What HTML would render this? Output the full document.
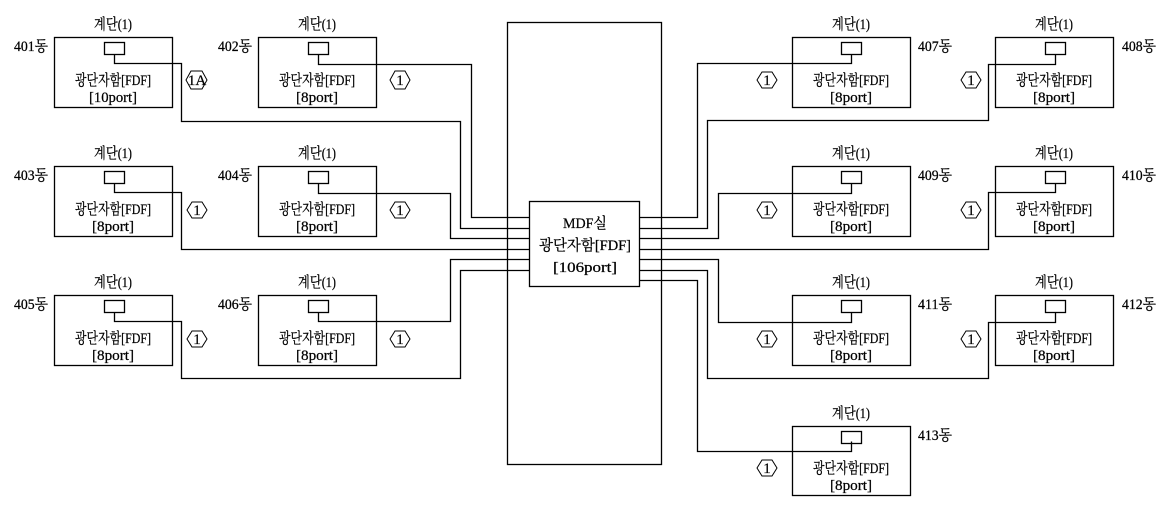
<!DOCTYPE html>
<html><head><meta charset="utf-8"><style>
body{margin:0;background:#fff}
svg{display:block}
text{font-family:"Liberation Serif","Noto Serif CJK SC","Noto Sans CJK KR",serif;font-size:15px;fill:#000;stroke:#000;stroke-width:0.25}
.c{text-anchor:middle}
</style></head><body>
<svg width="1165" height="508" viewBox="0 0 1165 508" xmlns="http://www.w3.org/2000/svg">
<g fill="none" stroke="#000" stroke-width="1.3">
<rect x="507.5" y="22.5" width="154" height="442"/>
<rect x="529.5" y="201.5" width="110" height="85" fill="#fff"/>
<rect x="54.5" y="37.5" width="118" height="70"/><rect x="104.5" y="42.5" width="20" height="12"/>
<rect x="258.5" y="37.5" width="118" height="70"/><rect x="308.5" y="42.5" width="20" height="12"/>
<rect x="54.5" y="166.5" width="118" height="70"/><rect x="104.5" y="171.5" width="20" height="12"/>
<rect x="258.5" y="166.5" width="118" height="70"/><rect x="308.5" y="171.5" width="20" height="12"/>
<rect x="54.5" y="295.5" width="118" height="70"/><rect x="104.5" y="300.5" width="20" height="12"/>
<rect x="258.5" y="295.5" width="118" height="70"/><rect x="308.5" y="300.5" width="20" height="12"/>
<rect x="792.5" y="37.5" width="118" height="70"/><rect x="841.5" y="42.5" width="20" height="12"/>
<rect x="995.5" y="37.5" width="118" height="70"/><rect x="1045.5" y="42.5" width="20" height="12"/>
<rect x="792.5" y="166.5" width="118" height="70"/><rect x="841.5" y="171.5" width="20" height="12"/>
<rect x="995.5" y="166.5" width="118" height="70"/><rect x="1045.5" y="171.5" width="20" height="12"/>
<rect x="792.5" y="295.5" width="118" height="70"/><rect x="841.5" y="300.5" width="20" height="12"/>
<rect x="995.5" y="295.5" width="118" height="70"/><rect x="1045.5" y="300.5" width="20" height="12"/>
<rect x="792.5" y="426.5" width="118" height="69"/><rect x="841.5" y="431.5" width="20" height="12"/>
<polyline points="114.5,54.5 114.5,63.5 181.5,63.5 181.5,121.5 460.5,121.5 460.5,228.5 529.5,228.5"/>
<polyline points="318.5,54.5 318.5,64.5 471.5,64.5 471.5,217.5 529.5,217.5"/>
<polyline points="114.5,183.5 114.5,192.5 181.5,192.5 181.5,249.5 529.5,249.5"/>
<polyline points="318.5,183.5 318.5,193.5 450.5,193.5 450.5,238.5 529.5,238.5"/>
<polyline points="114.5,312.5 114.5,321.5 181.5,321.5 181.5,378.5 460.5,378.5 460.5,270.5 529.5,270.5"/>
<polyline points="318.5,312.5 318.5,321.5 450.5,321.5 450.5,259.5 529.5,259.5"/>
<polyline points="851.5,54.5 851.5,63.5 697.5,63.5 697.5,217.5 639.5,217.5"/>
<polyline points="1055.5,54.5 1055.5,64.5 988.5,64.5 988.5,120.5 707.5,120.5 707.5,228.5 639.5,228.5"/>
<polyline points="851.5,183.5 851.5,193.5 718.5,193.5 718.5,238.5 639.5,238.5"/>
<polyline points="1055.5,183.5 1055.5,192.5 988.5,192.5 988.5,249.5 639.5,249.5"/>
<polyline points="851.5,312.5 851.5,322.5 718.5,322.5 718.5,259.5 639.5,259.5"/>
<polyline points="1055.5,312.5 1055.5,322.5 988.5,322.5 988.5,378.5 707.5,378.5 707.5,270.5 639.5,270.5"/>
<polyline points="851.5,441.5 851.5,451.5 697.5,451.5 697.5,280.5 639.5,280.5"/>
<g stroke-width="1">
<polygon points="186,80 191,71 202,71 207,80 202,89 191,89"/>
<polygon points="390,80 395,71 405,71 410,80 405,89 395,89"/>
<polygon points="187,210 192,202 202,202 207,210 202,218 192,218"/>
<polygon points="390,210 395,202 405,202 410,210 405,218 395,218"/>
<polygon points="187,339 192,331 202,331 207,339 202,347 192,347"/>
<polygon points="390,339 395,331 405,331 410,339 405,347 395,347"/>
<polygon points="757,80 762,72 772,72 777,80 772,88 762,88"/>
<polygon points="961,80 966,72 976,72 981,80 976,88 966,88"/>
<polygon points="757,210 762,202 772,202 777,210 772,218 762,218"/>
<polygon points="961,210 966,202 976,202 981,210 976,218 966,218"/>
<polygon points="757,339 762,331 772,331 777,339 772,347 762,347"/>
<polygon points="961,339 966,331 976,331 981,339 976,347 966,347"/>
<polygon points="757,468 762,460 772,460 777,468 772,476 762,476"/>
</g>
</g>
<g>
<text class="c" x="585" y="228" textLength="44" lengthAdjust="spacingAndGlyphs">MDF실</text>
<text class="c" x="585" y="250" textLength="92" lengthAdjust="spacingAndGlyphs">광단자함[FDF]</text>
<text class="c" x="585" y="272" textLength="64" lengthAdjust="spacingAndGlyphs">[106port]</text>
<g style="font-size:12px">
<text class="c" x="197" y="85">1A</text><text class="c" x="400" y="85">1</text>
<text class="c" x="197" y="215">1</text><text class="c" x="400" y="215">1</text>
<text class="c" x="197" y="344">1</text><text class="c" x="400" y="344">1</text>
<text class="c" x="767" y="85">1</text><text class="c" x="971" y="85">1</text>
<text class="c" x="767" y="215">1</text><text class="c" x="971" y="215">1</text>
<text class="c" x="767" y="344">1</text><text class="c" x="971" y="344">1</text>
<text class="c" x="767" y="473">1</text>
</g>
<text class="c" x="113" y="29" textLength="38" lengthAdjust="spacingAndGlyphs">계단(1)</text>
<text class="c" x="113" y="85" textLength="76" lengthAdjust="spacingAndGlyphs">광단자함[FDF]</text>
<text class="c" x="113" y="102" textLength="48" lengthAdjust="spacingAndGlyphs">[10port]</text>
<text x="14" y="51" textLength="34" lengthAdjust="spacingAndGlyphs">401동</text>
<text class="c" x="317" y="29" textLength="38" lengthAdjust="spacingAndGlyphs">계단(1)</text>
<text class="c" x="317" y="85" textLength="76" lengthAdjust="spacingAndGlyphs">광단자함[FDF]</text>
<text class="c" x="317" y="102" textLength="42" lengthAdjust="spacingAndGlyphs">[8port]</text>
<text x="218" y="51" textLength="34" lengthAdjust="spacingAndGlyphs">402동</text>
<text class="c" x="113" y="158" textLength="38" lengthAdjust="spacingAndGlyphs">계단(1)</text>
<text class="c" x="113" y="214" textLength="76" lengthAdjust="spacingAndGlyphs">광단자함[FDF]</text>
<text class="c" x="113" y="231" textLength="42" lengthAdjust="spacingAndGlyphs">[8port]</text>
<text x="14" y="180" textLength="34" lengthAdjust="spacingAndGlyphs">403동</text>
<text class="c" x="317" y="158" textLength="38" lengthAdjust="spacingAndGlyphs">계단(1)</text>
<text class="c" x="317" y="214" textLength="76" lengthAdjust="spacingAndGlyphs">광단자함[FDF]</text>
<text class="c" x="317" y="231" textLength="42" lengthAdjust="spacingAndGlyphs">[8port]</text>
<text x="218" y="180" textLength="34" lengthAdjust="spacingAndGlyphs">404동</text>
<text class="c" x="113" y="287" textLength="38" lengthAdjust="spacingAndGlyphs">계단(1)</text>
<text class="c" x="113" y="343" textLength="76" lengthAdjust="spacingAndGlyphs">광단자함[FDF]</text>
<text class="c" x="113" y="360" textLength="42" lengthAdjust="spacingAndGlyphs">[8port]</text>
<text x="14" y="309" textLength="34" lengthAdjust="spacingAndGlyphs">405동</text>
<text class="c" x="317" y="287" textLength="38" lengthAdjust="spacingAndGlyphs">계단(1)</text>
<text class="c" x="317" y="343" textLength="76" lengthAdjust="spacingAndGlyphs">광단자함[FDF]</text>
<text class="c" x="317" y="360" textLength="42" lengthAdjust="spacingAndGlyphs">[8port]</text>
<text x="218" y="309" textLength="34" lengthAdjust="spacingAndGlyphs">406동</text>
<text class="c" x="851" y="29" textLength="38" lengthAdjust="spacingAndGlyphs">계단(1)</text>
<text class="c" x="851" y="85" textLength="76" lengthAdjust="spacingAndGlyphs">광단자함[FDF]</text>
<text class="c" x="851" y="102" textLength="42" lengthAdjust="spacingAndGlyphs">[8port]</text>
<text x="918" y="51" textLength="34" lengthAdjust="spacingAndGlyphs">407동</text>
<text class="c" x="1054" y="29" textLength="38" lengthAdjust="spacingAndGlyphs">계단(1)</text>
<text class="c" x="1054" y="85" textLength="76" lengthAdjust="spacingAndGlyphs">광단자함[FDF]</text>
<text class="c" x="1054" y="102" textLength="42" lengthAdjust="spacingAndGlyphs">[8port]</text>
<text x="1122" y="51" textLength="34" lengthAdjust="spacingAndGlyphs">408동</text>
<text class="c" x="851" y="158" textLength="38" lengthAdjust="spacingAndGlyphs">계단(1)</text>
<text class="c" x="851" y="214" textLength="76" lengthAdjust="spacingAndGlyphs">광단자함[FDF]</text>
<text class="c" x="851" y="231" textLength="42" lengthAdjust="spacingAndGlyphs">[8port]</text>
<text x="918" y="180" textLength="34" lengthAdjust="spacingAndGlyphs">409동</text>
<text class="c" x="1054" y="158" textLength="38" lengthAdjust="spacingAndGlyphs">계단(1)</text>
<text class="c" x="1054" y="214" textLength="76" lengthAdjust="spacingAndGlyphs">광단자함[FDF]</text>
<text class="c" x="1054" y="231" textLength="42" lengthAdjust="spacingAndGlyphs">[8port]</text>
<text x="1122" y="180" textLength="34" lengthAdjust="spacingAndGlyphs">410동</text>
<text class="c" x="851" y="287" textLength="38" lengthAdjust="spacingAndGlyphs">계단(1)</text>
<text class="c" x="851" y="343" textLength="76" lengthAdjust="spacingAndGlyphs">광단자함[FDF]</text>
<text class="c" x="851" y="360" textLength="42" lengthAdjust="spacingAndGlyphs">[8port]</text>
<text x="918" y="309" textLength="34" lengthAdjust="spacingAndGlyphs">411동</text>
<text class="c" x="1054" y="287" textLength="38" lengthAdjust="spacingAndGlyphs">계단(1)</text>
<text class="c" x="1054" y="343" textLength="76" lengthAdjust="spacingAndGlyphs">광단자함[FDF]</text>
<text class="c" x="1054" y="360" textLength="42" lengthAdjust="spacingAndGlyphs">[8port]</text>
<text x="1122" y="309" textLength="34" lengthAdjust="spacingAndGlyphs">412동</text>
<text class="c" x="851" y="418" textLength="38" lengthAdjust="spacingAndGlyphs">계단(1)</text>
<text class="c" x="851" y="473" textLength="76" lengthAdjust="spacingAndGlyphs">광단자함[FDF]</text>
<text class="c" x="851" y="490" textLength="42" lengthAdjust="spacingAndGlyphs">[8port]</text>
<text x="918" y="440" textLength="34" lengthAdjust="spacingAndGlyphs">413동</text>
</g>
</svg>
</body></html>
